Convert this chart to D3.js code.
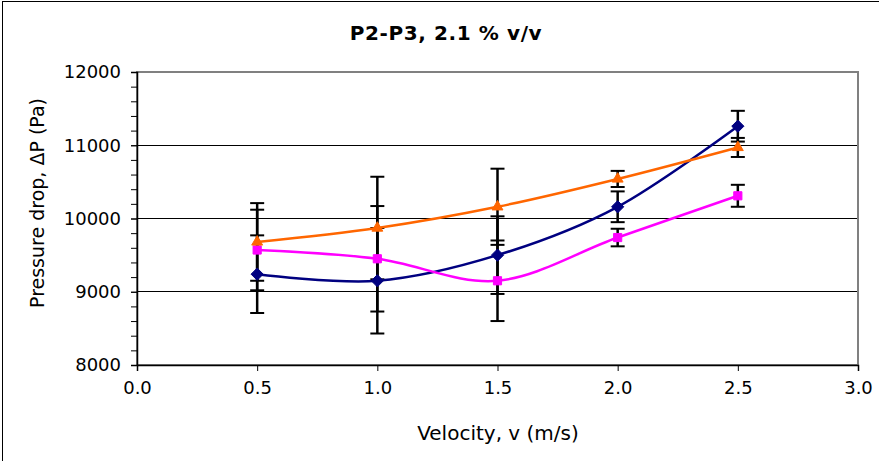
<!DOCTYPE html>
<html><head><meta charset="utf-8">
<script src="https://cdn.jsdelivr.net/npm/d3@7"></script>
<style>
html,body{margin:0;padding:0;background:#fff;}
svg{display:block;}
text{font-family:"DejaVu Sans",Verdana,sans-serif;fill:#000;}
</style></head>
<body>
<svg id="chart" width="879" height="461"></svg>
<script>
const title = "P2-P3, 2.1 % v/v";
const xLabel = "Velocity, v (m/s)";
const yLabel = "Pressure drop, \u0394P (Pa)";
const velocity = [0.5, 1.0, 1.5, 2.0, 2.5];
const blueValues = [9240, 9150, 9500, 10160, 11260];
const blueErrors = [530, 720, 530, 210, 210];
const magentaValues = [9570, 9450, 9150, 9740, 10310];
const magentaErrors = [550, 720, 550, 120, 150];
const orangeValues = [9680, 9870, 10160, 10540, 10970];
const orangeErrors = [530, 700, 520, 110, 130];
const xTicks = [0.0, 0.5, 1.0, 1.5, 2.0, 2.5, 3.0];
const yTicks = [8000, 9000, 10000, 11000, 12000];

const series = [
  {values: blueValues, errors: blueErrors, color: "#000080", symbol: d3.symbolDiamond2, size: 95},
  {values: magentaValues, errors: magentaErrors, color: "#FF00FF", symbol: d3.symbolSquare2, size: 85},
  {values: orangeValues, errors: orangeErrors, color: "#FF6600", symbol: d3.symbolTriangle2, size: 85}
];

const svg = d3.select("#chart");
const L = 137, R = 858, T = 72, B = 365;
const x = d3.scaleLinear().domain([0, 3]).range([L, R]);
const y = d3.scaleLinear().domain([8000, 12000]).range([B, T]);

// outer frame
svg.append("rect").attr("x", 2.5).attr("y", 1.5).attr("width", 900).attr("height", 500)
  .attr("fill", "none").attr("stroke", "#000").attr("stroke-width", 1);

// title
svg.append("text").attr("x", 446).attr("y", 40).attr("text-anchor", "middle")
  .attr("font-size", 20).attr("font-weight", "bold").attr("letter-spacing", 0.6).text(title);

// grid lines
svg.append("g").selectAll("line").data(yTicks.filter(v => v > 8000 && v < 12000)).join("line")
  .attr("x1", L).attr("x2", R).attr("y1", d => y(d)).attr("y2", d => y(d))
  .attr("stroke", "#000").attr("stroke-width", 1).attr("shape-rendering", "crispEdges");

// plot border (gray)
svg.append("rect").attr("x", L).attr("y", T).attr("width", R - L).attr("height", B - T)
  .attr("fill", "none").attr("stroke", "#808080").attr("stroke-width", 2);

// y axis with minor ticks
const yMinor = d3.range(8000, 12001, 200);
svg.append("g").attr("transform", `translate(${L},0)`)
  .call(d3.axisLeft(y).tickValues(yMinor).tickSize(6).tickFormat(""))
  .call(g => g.select(".domain").attr("stroke", "#000").attr("stroke-width", 1.5))
  .call(g => g.selectAll(".tick line").attr("stroke", "#000"));
svg.append("g").attr("transform", `translate(${L},0)`)
  .call(d3.axisLeft(y).tickValues(yTicks).tickSize(6).tickPadding(10).tickFormat(d3.format("d")))
  .call(g => g.select(".domain").remove())
  .call(g => g.selectAll(".tick line").attr("stroke", "#000"))
  .call(g => g.selectAll(".tick text").attr("font-size", 18).attr("font-family", "DejaVu Sans"));

// x axis
svg.append("g").attr("transform", `translate(0,${B})`)
  .call(d3.axisBottom(x).tickValues(xTicks).tickSize(6).tickPadding(10).tickFormat(d3.format(".1f")))
  .call(g => g.select(".domain").attr("stroke", "#000").attr("stroke-width", 1.5))
  .call(g => g.selectAll(".tick line").attr("stroke", "#000"))
  .call(g => g.selectAll(".tick text").attr("font-size", 18).attr("font-family", "DejaVu Sans"));

// axis titles
svg.append("text").attr("x", 498).attr("y", 440).attr("text-anchor", "middle")
  .attr("font-size", 20).text(xLabel);
svg.append("text").attr("transform", "translate(44,203) rotate(-90)").attr("text-anchor", "middle")
  .attr("font-size", 19).text(yLabel);

// error bars
const capW = 7;
series.forEach(s => {
  const g = svg.append("g");
  velocity.forEach((v, i) => {
    const hi = s.values[i] + s.errors[i], lo = s.values[i] - s.errors[i];
    g.append("line").attr("x1", x(v)).attr("x2", x(v)).attr("y1", y(hi)).attr("y2", y(lo))
      .attr("stroke", "#000").attr("stroke-width", 2.5);
    [hi, lo].forEach(e => g.append("line").attr("x1", x(v) - capW).attr("x2", x(v) + capW)
      .attr("y1", y(e)).attr("y2", y(e)).attr("stroke", "#000").attr("stroke-width", 2));
  });
});

// lines
const line = d3.line().x((d, i) => x(velocity[i])).y(d => y(d)).curve(d3.curveCatmullRom.alpha(0));
series.forEach(s => {
  svg.append("path").datum(s.values).attr("d", line)
    .attr("fill", "none").attr("stroke", s.color).attr("stroke-width", 2.5);
});

// markers
series.forEach(s => {
  svg.append("g").selectAll("path").data(s.values).join("path")
    .attr("transform", (d, i) => `translate(${x(velocity[i])},${y(d)})`)
    .attr("d", d3.symbol().type(s.symbol).size(s.size))
    .attr("fill", s.color).attr("stroke", s.color).attr("stroke-width", 1);
});
</script>
</body></html>
